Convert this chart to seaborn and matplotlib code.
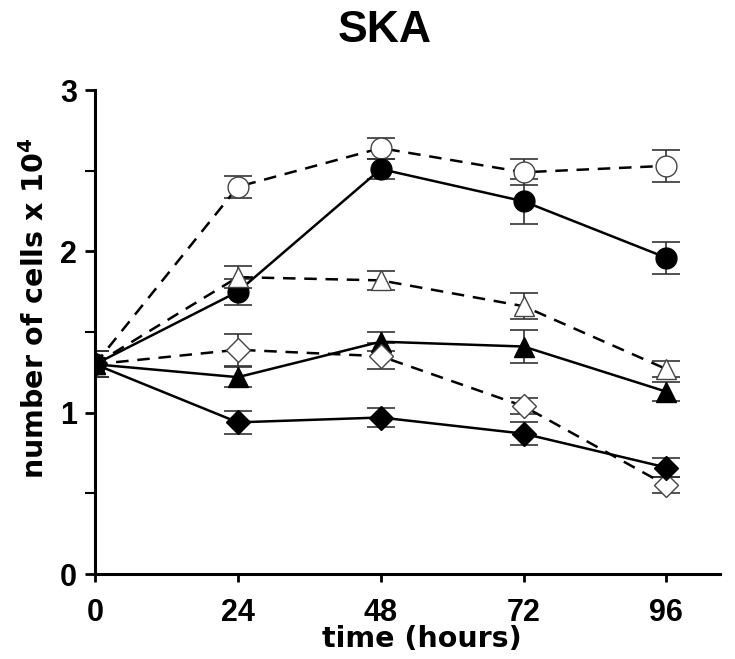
import matplotlib
matplotlib.use("Agg")
import matplotlib.pyplot as plt
from matplotlib.ticker import MultipleLocator
import seaborn as sns
import pandas as pd

time_h = [0, 24, 48, 72, 96]

circle_open = [1.30, 2.40, 2.64, 2.49, 2.53]
circle_open_err = [0.08, 0.07, 0.065, 0.08, 0.10]
circle_filled = [1.30, 1.75, 2.51, 2.31, 1.96]
circle_filled_err = [0.08, 0.08, 0.06, 0.14, 0.10]
tri_open = [1.30, 1.84, 1.82, 1.66, 1.27]
tri_open_err = [0.08, 0.07, 0.06, 0.08, 0.05]
tri_filled = [1.30, 1.22, 1.44, 1.41, 1.13]
tri_filled_err = [0.08, 0.06, 0.06, 0.10, 0.06]
dia_open = [1.30, 1.39, 1.35, 1.04, 0.55]
dia_open_err = [0.08, 0.10, 0.08, 0.05, 0.05]
dia_filled = [1.30, 0.94, 0.97, 0.87, 0.66]
dia_filled_err = [0.08, 0.07, 0.06, 0.07, 0.06]

x_ticks = [0, 24, 48, 72, 96]
y_ticks = [0, 1, 2, 3]

series = [
    (circle_open, circle_open_err, "o", False, 15),
    (circle_filled, circle_filled_err, "o", True, 15),
    (tri_open, tri_open_err, "^", False, 15),
    (tri_filled, tri_filled_err, "^", True, 15),
    (dia_open, dia_open_err, "D", False, 12),
    (dia_filled, dia_filled_err, "D", True, 12),
]

sns.set_theme(style="ticks")
plt.rcParams["font.family"] = ["Liberation Sans", "DejaVu Sans"]
for k in ["text.color", "axes.labelcolor", "xtick.color", "ytick.color"]:
    plt.rcParams[k] = "black"

fig = plt.figure(figsize=(7.35, 6.59), dpi=100)
ax = fig.add_axes([95 / 735, 1 - 574 / 659, 625 / 735, (574 - 90) / 659])

for vals, errs, mk, filled, ms in series:
    df = pd.DataFrame({"time": time_h, "value": vals})
    ax.errorbar(time_h, vals, yerr=errs, fmt="none", ecolor="#333333",
                elinewidth=1.2, capsize=10, capthick=1.2, zorder=2)
    sns.lineplot(data=df, x="time", y="value", ax=ax, color="black",
                 linestyle="-" if filled else (0, (5, 3.5)),
                 linewidth=1.8, marker=mk, markersize=ms,
                 markerfacecolor="black" if filled else "white",
                 markeredgecolor="black" if filled else "#444444",
                 markeredgewidth=1.0, errorbar=None, zorder=3)

ax.set_xlim(0, 105)
ax.set_ylim(0, 3)
ax.set_xticks(x_ticks)
ax.set_yticks(y_ticks)
ax.yaxis.set_minor_locator(MultipleLocator(0.5))
ax.set_xticklabels([str(t) for t in x_ticks], fontsize=22, fontweight="bold")
ax.set_yticklabels([str(t) for t in y_ticks], fontsize=22, fontweight="bold")
ax.tick_params(axis="x", which="major", direction="out", length=6, width=2,
               pad=11)
ax.tick_params(axis="y", which="major", direction="out", length=7, width=2,
               pad=6)
ax.tick_params(axis="y", which="minor", direction="out", length=7, width=1.5)
for s in ["top", "right"]:
    ax.spines[s].set_visible(False)
for s in ["left", "bottom"]:
    ax.spines[s].set_linewidth(2.2)
    ax.spines[s].set_color("black")

ax.set_xlabel("time (hours)", fontsize=20.5, fontweight="bold",
              family=["DejaVu Sans"])
ax.xaxis.set_label_coords(0.523, -0.106)
ax.set_ylabel("number of cells x 10$^{\\mathbf{4}}$", fontsize=20.5,
              fontweight="bold", family=["DejaVu Sans"])
ax.yaxis.set_label_coords(-0.072, 0.55)
fig.text(0.524, 0.953, "SKA", ha="center", va="center", fontsize=32,
         fontweight="bold")

fig.savefig("out.png", dpi=100)
